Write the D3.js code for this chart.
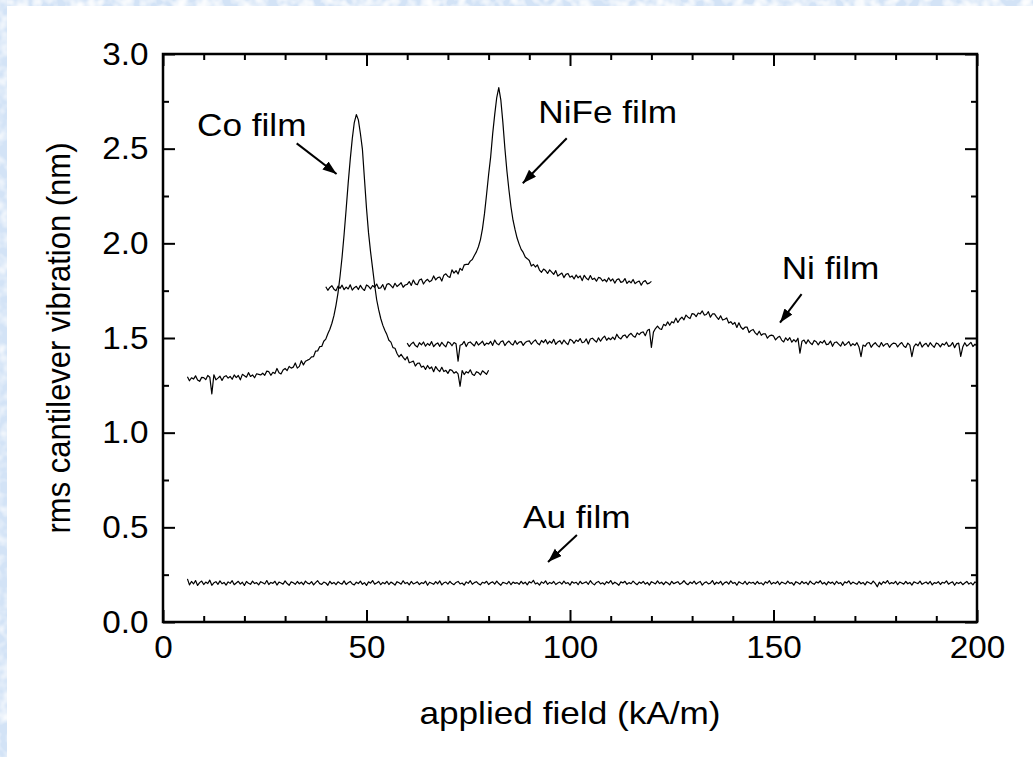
<!DOCTYPE html>
<html>
<head>
<meta charset="utf-8">
<script src="https://cdn.jsdelivr.net/npm/d3@7"></script>
<style>
  html, body { margin: 0; padding: 0; overflow: hidden; background: #fff; }
  #chart { display: block; }
  svg text { font-family: "Liberation Sans", Arial, Helvetica, sans-serif; fill: #000; }
</style>
</head>
<body>
<svg id="chart" width="1033" height="757"></svg>
<script>
// field sweeps, 0.5 kA/m steps (nm)
const coStart = 6, coStep = 0.5;
const coVib = [
  1.295, 1.274, 1.290, 1.283, 1.300, 1.278, 1.271, 1.292, 1.291, 1.280,
  1.302, 1.293, 1.205, 1.306, 1.279, 1.288, 1.298, 1.276, 1.295, 1.301,
  1.288, 1.297, 1.282, 1.305, 1.291, 1.302, 1.279, 1.308, 1.301, 1.293,
  1.317, 1.297, 1.305, 1.290, 1.311, 1.308, 1.305, 1.314, 1.303, 1.325,
  1.322, 1.303, 1.319, 1.312, 1.339, 1.317, 1.310, 1.331, 1.339, 1.328,
  1.350, 1.341, 1.346, 1.368, 1.341, 1.350, 1.380, 1.358, 1.377, 1.383,
  1.388, 1.400, 1.402, 1.431, 1.432, 1.454, 1.455, 1.483, 1.494, 1.522,
  1.546, 1.578, 1.618, 1.672, 1.738, 1.826, 1.928, 2.048, 2.180, 2.318,
  2.442, 2.552, 2.638, 2.680, 2.652, 2.580, 2.496, 2.340, 2.185, 2.055,
  1.955, 1.868, 1.780, 1.702, 1.648, 1.603, 1.568, 1.541, 1.518, 1.488,
  1.478, 1.449, 1.446, 1.418, 1.400, 1.414, 1.398, 1.384, 1.401, 1.369,
  1.373, 1.378, 1.352, 1.366, 1.368, 1.346, 1.352, 1.334, 1.355, 1.338,
  1.347, 1.322, 1.349, 1.333, 1.323, 1.345, 1.323, 1.329, 1.313, 1.333,
  1.329, 1.314, 1.322, 1.310, 1.245, 1.328, 1.307, 1.322, 1.315, 1.332,
  1.309, 1.302, 1.322, 1.317, 1.305, 1.327, 1.318, 1.308, 1.330
];

const nifeStart = 40, nifeStep = 0.5;
const nifeVib = [
  1.771, 1.752, 1.767, 1.776, 1.758, 1.750, 1.774, 1.762, 1.779, 1.755,
  1.769, 1.759, 1.781, 1.753, 1.766, 1.773, 1.756, 1.778, 1.761, 1.751,
  1.780, 1.773, 1.759, 1.777, 1.768, 1.785, 1.762, 1.765, 1.782, 1.754,
  1.783, 1.787, 1.777, 1.765, 1.789, 1.772, 1.781, 1.792, 1.768, 1.780,
  1.783, 1.798, 1.778, 1.806, 1.786, 1.781, 1.806, 1.812, 1.785, 1.801,
  1.810, 1.797, 1.804, 1.828, 1.807, 1.819, 1.822, 1.801, 1.832, 1.839,
  1.825, 1.820, 1.860, 1.843, 1.856, 1.838, 1.868, 1.857, 1.886, 1.889,
  1.889, 1.906, 1.915, 1.936, 1.955, 1.982, 2.020, 2.078, 2.158, 2.258,
  2.362, 2.455, 2.578, 2.680, 2.770, 2.822, 2.758, 2.640, 2.502, 2.382,
  2.282, 2.192, 2.122, 2.072, 2.028, 1.996, 1.968, 1.952, 1.928, 1.919,
  1.909, 1.880, 1.889, 1.875, 1.886, 1.859, 1.847, 1.864, 1.856, 1.841,
  1.860, 1.848, 1.836, 1.856, 1.827, 1.835, 1.843, 1.819, 1.836, 1.841,
  1.821, 1.828, 1.812, 1.833, 1.818, 1.828, 1.803, 1.831, 1.816, 1.807,
  1.830, 1.809, 1.816, 1.800, 1.820, 1.816, 1.801, 1.809, 1.797, 1.818,
  1.801, 1.812, 1.790, 1.808, 1.812, 1.794, 1.798, 1.814, 1.788, 1.801,
  1.791, 1.809, 1.787, 1.796, 1.801, 1.779, 1.797, 1.803, 1.786, 1.790,
  1.799
];

const niStart = 60, niStep = 0.5;
const niVib = [
  1.473, 1.455, 1.469, 1.478, 1.460, 1.452, 1.475, 1.464, 1.479, 1.457,
  1.471, 1.461, 1.481, 1.454, 1.467, 1.474, 1.456, 1.477, 1.463, 1.453,
  1.480, 1.474, 1.459, 1.476, 1.469, 1.378, 1.462, 1.466, 1.482, 1.455,
  1.475, 1.479, 1.468, 1.458, 1.481, 1.463, 1.472, 1.483, 1.461, 1.473,
  1.468, 1.482, 1.461, 1.489, 1.471, 1.464, 1.480, 1.485, 1.460, 1.475,
  1.484, 1.470, 1.463, 1.486, 1.467, 1.478, 1.481, 1.461, 1.476, 1.483,
  1.485, 1.467, 1.481, 1.490, 1.472, 1.464, 1.487, 1.476, 1.491, 1.469,
  1.483, 1.473, 1.493, 1.466, 1.479, 1.486, 1.468, 1.489, 1.475, 1.465,
  1.493, 1.487, 1.472, 1.489, 1.482, 1.497, 1.475, 1.479, 1.495, 1.468,
  1.495, 1.499, 1.488, 1.478, 1.501, 1.483, 1.499, 1.510, 1.488, 1.500,
  1.491, 1.505, 1.492, 1.520, 1.502, 1.495, 1.511, 1.516, 1.501, 1.516,
  1.525, 1.511, 1.504, 1.527, 1.518, 1.529, 1.532, 1.512, 1.539, 1.546,
  1.450, 1.531, 1.550, 1.563, 1.549, 1.545, 1.572, 1.565, 1.585, 1.567,
  1.586, 1.580, 1.605, 1.582, 1.599, 1.610, 1.596, 1.621, 1.610, 1.603,
  1.629, 1.626, 1.613, 1.632, 1.627, 1.643, 1.621, 1.624, 1.639, 1.610,
  1.627, 1.627, 1.612, 1.598, 1.617, 1.595, 1.599, 1.606, 1.579, 1.586,
  1.572, 1.582, 1.556, 1.580, 1.557, 1.546, 1.557, 1.558, 1.529, 1.540,
  1.545, 1.527, 1.517, 1.536, 1.514, 1.522, 1.522, 1.499, 1.511, 1.515,
  1.511, 1.490, 1.502, 1.509, 1.489, 1.479, 1.501, 1.488, 1.502, 1.478,
  1.491, 1.480, 1.499, 1.420, 1.483, 1.489, 1.470, 1.490, 1.475, 1.465,
  1.487, 1.480, 1.464, 1.481, 1.473, 1.487, 1.465, 1.468, 1.484, 1.456,
  1.476, 1.479, 1.468, 1.457, 1.480, 1.461, 1.470, 1.481, 1.458, 1.470,
  1.461, 1.475, 1.453, 1.402, 1.463, 1.456, 1.472, 1.476, 1.451, 1.466,
  1.475, 1.461, 1.453, 1.476, 1.457, 1.468, 1.471, 1.451, 1.466, 1.473,
  1.471, 1.453, 1.467, 1.476, 1.458, 1.450, 1.473, 1.462, 1.401, 1.455,
  1.469, 1.459, 1.479, 1.452, 1.465, 1.472, 1.454, 1.475, 1.461, 1.451,
  1.474, 1.468, 1.453, 1.470, 1.463, 1.478, 1.456, 1.460, 1.476, 1.449,
  1.469, 1.473, 1.403, 1.452, 1.475, 1.457, 1.466, 1.477, 1.455, 1.467,
  1.458
];

const auStart = 6, auStep = 0.5;
const auVib = [
  0.228, 0.196, 0.214, 0.201, 0.219, 0.193, 0.208, 0.216, 0.198, 0.211, 0.203, 0.221, 0.194, 0.207, 0.213, 0.199, 0.217, 0.202, 0.209, 0.195,
  0.212, 0.204, 0.218, 0.197, 0.206, 0.215, 0.200, 0.210, 0.193, 0.214, 0.205, 0.199, 0.216, 0.203, 0.208, 0.196, 0.213, 0.207, 0.201, 0.219,
  0.198, 0.209, 0.204, 0.215, 0.195, 0.211, 0.206, 0.200, 0.217, 0.203, 0.194, 0.212, 0.207, 0.199, 0.214, 0.202, 0.210, 0.197, 0.216, 0.205,
  0.201, 0.213, 0.196, 0.208, 0.218, 0.203, 0.199, 0.211, 0.206, 0.194, 0.215, 0.202, 0.209, 0.197, 0.212, 0.205, 0.200, 0.217, 0.198, 0.207,
  0.214, 0.201, 0.196, 0.210, 0.203, 0.216, 0.199, 0.208, 0.193, 0.212, 0.205, 0.219, 0.200, 0.206, 0.214, 0.197, 0.209, 0.202, 0.215, 0.198,
  0.211, 0.204, 0.195, 0.213, 0.207, 0.200, 0.218, 0.203, 0.209, 0.196, 0.214, 0.201, 0.206, 0.212, 0.198, 0.208, 0.203, 0.216, 0.194, 0.210,
  0.205, 0.199, 0.213, 0.202, 0.217, 0.196, 0.207, 0.211, 0.200, 0.215, 0.203, 0.197, 0.209, 0.214, 0.201, 0.206, 0.195, 0.212, 0.204, 0.218,
  0.199, 0.208, 0.213, 0.202, 0.196, 0.210, 0.205, 0.215, 0.198, 0.207, 0.212, 0.200, 0.216, 0.203, 0.194, 0.209, 0.206, 0.201, 0.214, 0.197,
  0.211, 0.204, 0.208, 0.199, 0.215, 0.202, 0.210, 0.196, 0.213, 0.206, 0.220, 0.201, 0.207, 0.195, 0.212, 0.204, 0.217, 0.199, 0.209, 0.203,
  0.214, 0.198, 0.206, 0.211, 0.200, 0.216, 0.203, 0.208, 0.195, 0.213, 0.205, 0.210, 0.197, 0.215, 0.202, 0.207, 0.212, 0.199, 0.218, 0.204,
  0.196, 0.209, 0.214, 0.201, 0.207, 0.198, 0.213, 0.205, 0.219, 0.200, 0.210, 0.203, 0.194, 0.212, 0.206, 0.215, 0.199, 0.208, 0.202, 0.216,
  0.205, 0.197, 0.211, 0.204, 0.214, 0.200, 0.209, 0.195, 0.213, 0.207, 0.201, 0.217, 0.203, 0.210, 0.198, 0.212, 0.206, 0.196, 0.215, 0.202,
  0.208, 0.213, 0.199, 0.206, 0.218, 0.204, 0.197, 0.211, 0.203, 0.216, 0.200, 0.209, 0.214, 0.195, 0.207, 0.212, 0.201, 0.205, 0.219, 0.198,
  0.210, 0.203, 0.215, 0.196, 0.208, 0.212, 0.200, 0.217, 0.204, 0.209, 0.194, 0.213, 0.206, 0.201, 0.215, 0.198, 0.211, 0.205, 0.210, 0.199,
  0.214, 0.202, 0.207, 0.196, 0.212, 0.205, 0.218, 0.200, 0.209, 0.203, 0.215, 0.197, 0.211, 0.206, 0.201, 0.216, 0.204, 0.208, 0.195, 0.213,
  0.207, 0.200, 0.214, 0.203, 0.210, 0.197, 0.216, 0.205, 0.199, 0.212, 0.206, 0.218, 0.201, 0.209, 0.196, 0.213, 0.204, 0.211, 0.198, 0.215,
  0.203, 0.208, 0.194, 0.212, 0.206, 0.217, 0.200, 0.211, 0.205, 0.199, 0.214, 0.202, 0.209, 0.196, 0.213, 0.207, 0.201, 0.216, 0.204, 0.186,
  0.210, 0.198, 0.213, 0.205, 0.219, 0.201, 0.208, 0.203, 0.215, 0.197, 0.211, 0.206, 0.200, 0.214, 0.202, 0.209, 0.195, 0.212, 0.207, 0.203,
  0.216, 0.199, 0.206, 0.211, 0.201, 0.214, 0.196, 0.208, 0.204, 0.213, 0.198, 0.210, 0.205, 0.217, 0.200, 0.207, 0.212, 0.194, 0.209, 0.203,
  0.211, 0.197, 0.206, 0.214, 0.200, 0.208, 0.196, 0.212, 0.204
];

const xTicks = [0, 50, 100, 150, 200];
const yTicks = [0, 0.5, 1.0, 1.5, 2.0, 2.5, 3.0];

// label text, where it sits, and where its arrow points (data units)
const notes = [
  { text: "Co film",   at: [8.35, 2.567],  from: [32.85, 2.528], to: [42.65, 2.366] },
  { text: "NiFe film", at: [92.2, 2.634],  from: [99.2, 2.555],  to: [88.4, 2.317] },
  { text: "Ni film",   at: [152.0, 1.81],  from: [156.9, 1.732], to: [151.6, 1.581] },
  { text: "Au film",   at: [88.45, 0.4965], from: [101.7, 0.4595], to: [94.6, 0.317] }
];

const series = [
  { start: coStart, step: coStep, values: coVib },
  { start: nifeStart, step: nifeStep, values: nifeVib },
  { start: niStart, step: niStep, values: niVib },
  { start: auStart, step: auStep, values: auVib }
];

const svg = d3.select("#chart");
const width = +svg.attr("width");
const height = +svg.attr("height");

const margin = { top: 54, right: 56, bottom: 135, left: 163 };
const plotW = width - margin.left - margin.right;
const plotH = height - margin.top - margin.bottom;

const x = d3.scaleLinear().domain([0, 200]).range([margin.left, margin.left + plotW]);
const y = d3.scaleLinear().domain([0, 3]).range([margin.top + plotH, margin.top]);

const defs = svg.append("defs");

// mottled light-blue strip along the top and left edges
const mottle = defs.append("filter").attr("id", "mottle")
  .attr("filterUnits", "userSpaceOnUse")
  .attr("x", 0).attr("y", 0).attr("width", width).attr("height", height);
mottle.append("feTurbulence")
  .attr("type", "fractalNoise").attr("baseFrequency", 0.09)
  .attr("numOctaves", 2).attr("seed", 7);
mottle.append("feColorMatrix").attr("type", "matrix")
  .attr("values", "0 0 0 0 1  0 0 0 0 1  0 0 0 0 1  1.8 0 0 0 -0.7");

defs.append("clipPath").attr("id", "plot-clip")
  .append("rect")
    .attr("x", margin.left).attr("y", margin.top)
    .attr("width", plotW).attr("height", plotH);

defs.append("marker")
    .attr("id", "head")
    .attr("markerUnits", "userSpaceOnUse")
    .attr("markerWidth", 16).attr("markerHeight", 12)
    .attr("refX", 14).attr("refY", 5)
    .attr("orient", "auto")
  .append("path")
    .attr("d", "M0,0 L14,5 L0,10 Z")
    .attr("fill", "#000");

svg.append("rect").attr("width", width).attr("height", height).attr("fill", "#fff");
const edge = svg.append("g");
[[0, 0, width, 6], [0, 0, 7, height]].forEach(r => {
  edge.append("rect").attr("x", r[0]).attr("y", r[1])
    .attr("width", r[2]).attr("height", r[3]).attr("fill", "#d3e3f6");
  edge.append("rect").attr("x", r[0]).attr("y", r[1])
    .attr("width", r[2]).attr("height", r[3]).attr("filter", "url(#mottle)");
});

// traces
const line = d3.line()
  .x(d => x(d[0]))
  .y(d => y(d[1]));

const traces = svg.append("g").attr("clip-path", "url(#plot-clip)");
series.forEach(s => {
  const pts = s.values.map((v, i) => [s.start + i * s.step, v]);
  traces.append("path")
    .attr("d", line(pts))
    .attr("fill", "none")
    .attr("stroke", "#000")
    .attr("stroke-width", 1.2)
    .attr("stroke-linejoin", "round");
});

// axes: ticks point inward on all four sides
const xMinor = d3.range(0, 201, 10).filter(v => v % 50 !== 0);
const yMinor = d3.range(0.25, 3, 0.5);

function styleAxis(g) {
  g.select(".domain").remove();
  g.selectAll(".tick line").attr("stroke", "#000").attr("stroke-width", 2);
}

const bottom = margin.top + plotH;
const right = margin.left + plotW;

svg.append("g").attr("transform", `translate(0,${bottom})`)
  .call(d3.axisBottom(x).tickValues(xTicks).tickSize(-12).tickPadding(13).tickFormat(d3.format("d")))
  .call(styleAxis)
  .call(g => g.selectAll("text")
    .attr("font-size", 32).attr("font-family", null)
    .attr("transform", "scale(1.04,1)"));
svg.append("g").attr("transform", `translate(0,${bottom})`)
  .call(d3.axisBottom(x).tickValues(xMinor).tickSize(-6).tickFormat(""))
  .call(styleAxis);

svg.append("g").attr("transform", `translate(0,${margin.top})`)
  .call(d3.axisTop(x).tickValues(xTicks).tickSize(-12).tickFormat(""))
  .call(styleAxis);
svg.append("g").attr("transform", `translate(0,${margin.top})`)
  .call(d3.axisTop(x).tickValues(xMinor).tickSize(-6).tickFormat(""))
  .call(styleAxis);

svg.append("g").attr("transform", `translate(${margin.left},0)`)
  .call(d3.axisLeft(y).tickValues(yTicks).tickSize(-12).tickPadding(14).tickFormat(d3.format(".1f")))
  .call(styleAxis)
  .call(g => g.selectAll("text")
    .attr("font-size", 32).attr("font-family", null)
    .attr("transform", "scale(1.04,1)"));
svg.append("g").attr("transform", `translate(${margin.left},0)`)
  .call(d3.axisLeft(y).tickValues(yMinor).tickSize(-6).tickFormat(""))
  .call(styleAxis);

svg.append("g").attr("transform", `translate(${right},0)`)
  .call(d3.axisRight(y).tickValues(yTicks).tickSize(-12).tickFormat(""))
  .call(styleAxis);
svg.append("g").attr("transform", `translate(${right},0)`)
  .call(d3.axisRight(y).tickValues(yMinor).tickSize(-6).tickFormat(""))
  .call(styleAxis);

svg.append("rect")
  .attr("x", margin.left).attr("y", margin.top)
  .attr("width", plotW).attr("height", plotH)
  .attr("fill", "none").attr("stroke", "#000").attr("stroke-width", 2.5);

// axis titles
svg.append("text")
  .attr("transform", `translate(${margin.left + plotW / 2},724) scale(1.1,1)`)
  .attr("text-anchor", "middle")
  .attr("font-size", 32)
  .text("applied field (kA/m)");

svg.append("text")
  .attr("transform", `translate(70,${margin.top + plotH / 2}) scale(1.1,1) rotate(-90)`)
  .attr("text-anchor", "middle")
  .attr("font-size", 31)
  .text("rms cantilever vibration (nm)");

// film labels with arrows
const ann = svg.append("g");
notes.forEach(n => {
  ann.append("text")
    .attr("transform", `translate(${x(n.at[0])},${y(n.at[1])}) scale(1.1,1)`)
    .attr("font-size", 32)
    .text(n.text);
  ann.append("line")
    .attr("x1", x(n.from[0])).attr("y1", y(n.from[1]))
    .attr("x2", x(n.to[0])).attr("y2", y(n.to[1]))
    .attr("stroke", "#000").attr("stroke-width", 2)
    .attr("marker-end", "url(#head)");
});
</script>
</body>
</html>
